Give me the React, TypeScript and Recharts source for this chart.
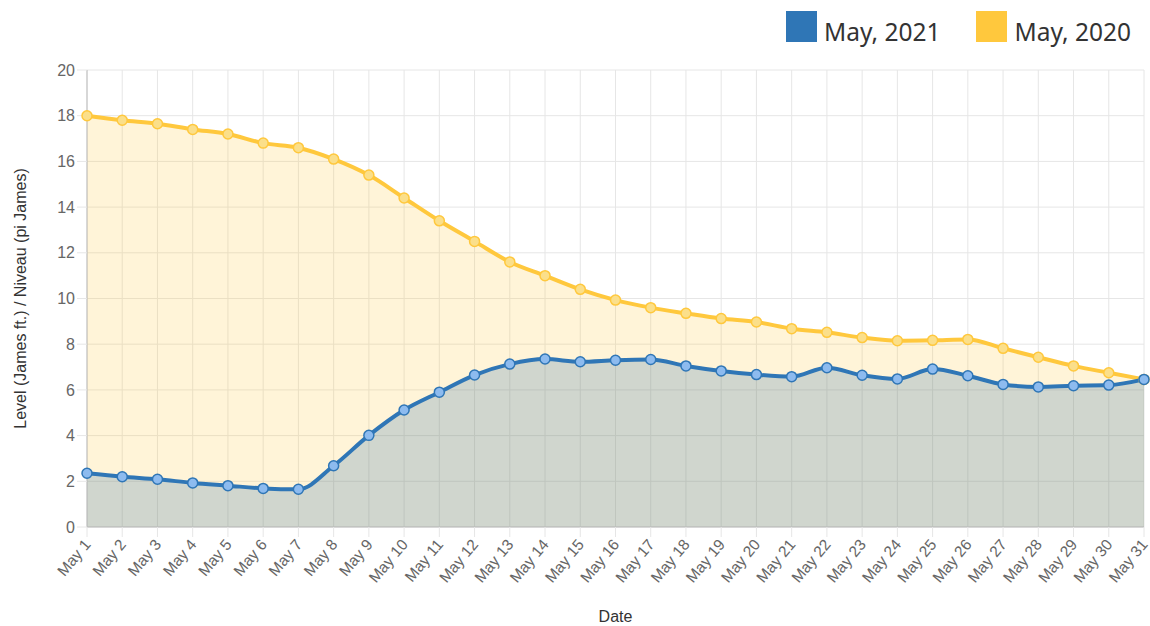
import React from "react";
import { AreaChart, Area, XAxis, YAxis, CartesianGrid } from "recharts";

const days = [
	"May 1", "May 2", "May 3", "May 4", "May 5", "May 6", "May 7", "May 8",
	"May 9", "May 10", "May 11", "May 12", "May 13", "May 14", "May 15", "May 16",
	"May 17", "May 18", "May 19", "May 20", "May 21", "May 22", "May 23", "May 24",
	"May 25", "May 26", "May 27", "May 28", "May 29", "May 30", "May 31",
];

const may2021 = [
	2.35, 2.2, 2.09, 1.93, 1.81, 1.69, 1.65, 2.68, 4.01, 5.12, 5.9, 6.65, 7.13,
	7.35, 7.23, 7.3, 7.33, 7.05, 6.83, 6.67, 6.58, 6.97, 6.64, 6.48, 6.91, 6.62,
	6.24, 6.13, 6.18, 6.21, 6.46,
];

const may2020 = [
	18.0, 17.8, 17.65, 17.4, 17.2, 16.8, 16.6, 16.1, 15.4, 14.4, 13.4, 12.5, 11.6,
	11.0, 10.4, 9.93, 9.6, 9.35, 9.12, 8.97, 8.68, 8.52, 8.29, 8.15, 8.17, 8.21,
	7.82, 7.43, 7.05, 6.75, 6.46,
];

const yTicks = [0, 2, 4, 6, 8, 10, 12, 14, 16, 18, 20];

const chartData = days.map((day, i) => ({
	day,
	may2021: may2021[i],
	may2020: may2020[i],
}));

const BLUE = "#2f76b6";
const YELLOW = "#ffc83d";
const FONT = "'Liberation Sans', Arial, sans-serif";

const DateTick = (props: any) => {
	const { x, y, payload } = props;
	return (
		<g transform={`translate(${x},${y + 2})`}>
			<text
				x={0}
				y={0}
				dy={6}
				textAnchor="end"
				transform="rotate(-50)"
				fontSize={15.5}
				fill="#666"
				fontFamily={FONT}
			>
				{payload.value}
			</text>
		</g>
	);
};

const LegendBox = ({ color, label, gap }: { color: string; label: string; gap: number }) => (
	<div style={{ display: "flex", alignItems: "flex-start", marginLeft: gap }}>
		<div style={{ width: 31, height: 31, background: color }} />
		<span
			style={{
				marginLeft: 7,
				fontSize: 24.5,
				color: "#333",
				fontFamily: "'Noto Sans', sans-serif",
				lineHeight: "31px",
				marginTop: 5,
			}}
		>
			{label}
		</span>
	</div>
);

export default function App() {
	return (
		<div
			style={{
				position: "fixed",
				left: 0,
				top: 0,
				width: 1150,
				height: 626,
				background: "#fff",
			}}
		>
			<div style={{ position: "absolute", top: 11, left: 786, display: "flex" }}>
				<LegendBox color={BLUE} label="May, 2021" gap={0} />
				<LegendBox color={YELLOW} label="May, 2020" gap={36} />
			</div>
			<AreaChart
				width={1150}
				height={626}
				data={chartData}
				margin={{ top: 70, right: 6, bottom: 0, left: 0 }}
			>
				<CartesianGrid stroke="#e6e6e6" />
				<XAxis
					dataKey="day"
					scale="point"
					interval={0}
					height={99}
					tick={<DateTick />}
					tickLine={{ stroke: "#e6e6e6" }}
					tickSize={10}
					axisLine={{ stroke: "#bbb" }}
					label={{
						value: "Date",
						position: "insideBottom",
						offset: 4,
						fontSize: 16,
						fill: "#333",
						fontFamily: FONT,
					}}
				/>
				<YAxis
					domain={[0, 20]}
					ticks={yTicks}
					width={87}
					tick={{ fontSize: 16, fill: "#666", fontFamily: FONT }}
					tickLine={{ stroke: "#e6e6e6" }}
					tickSize={10}
					axisLine={{ stroke: "#bbb" }}
					label={{
						value: "Level (James ft.) / Niveau (pi James)",
						angle: -90,
						position: "insideLeft",
						offset: 20,
						style: { textAnchor: "middle" },
						fontSize: 16,
						fill: "#333",
						fontFamily: FONT,
					}}
				/>
				<Area
					type="monotone"
					dataKey="may2020"
					stroke={YELLOW}
					strokeWidth={4}
					fill={YELLOW}
					fillOpacity={0.2}
					dot={{ r: 5, fill: "#fbdf8a", stroke: YELLOW, strokeWidth: 1.5, fillOpacity: 1 }}
					isAnimationActive={false}
				/>
				<Area
					type="monotone"
					dataKey="may2021"
					stroke={BLUE}
					strokeWidth={4}
					fill="#145eab"
					fillOpacity={0.2}
					dot={{ r: 5, fill: "#8dbbef", stroke: BLUE, strokeWidth: 1.5, fillOpacity: 1 }}
					isAnimationActive={false}
				/>
			</AreaChart>
		</div>
	);
}
